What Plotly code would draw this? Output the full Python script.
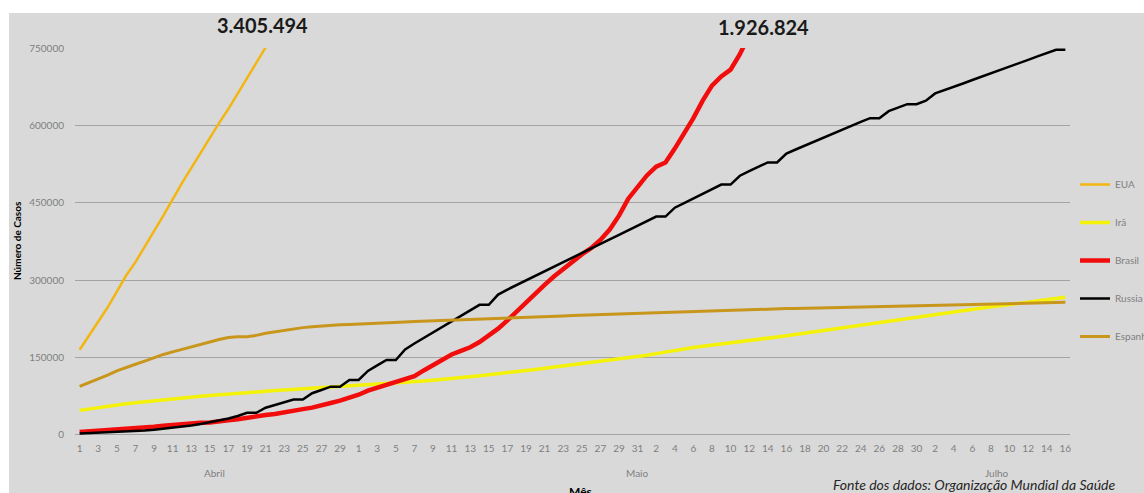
import pandas as pd
import plotly.graph_objects as go

# ---- data ----
datas = pd.date_range("2020-04-01", "2020-07-16", freq="D")

eua = [165000, 192000, 220000, 247000, 278000, 309000, 335000, 364000, 395000, 425000,
       457000, 488000, 517000, 547000, 577000, 605000, 632000, 662000, 692000, 721000,
       751000, 781000]

ira = [47593, 50468, 53183, 55743, 58226, 60500, 62589, 64586, 66220, 68192,
       70029, 71686, 73303, 74877, 76389, 77995, 79494, 80868, 82211, 83505,
       84802, 85996, 87026, 88194, 89328, 90481, 91472, 92584, 93657, 94640,
       95646, 96448, 97424, 98647, 99970, 101650, 103135, 104691, 106220, 107603,
       109286, 110767, 112725, 114533, 116635, 118392, 120198, 122492, 124603, 126949,
       129341, 131652, 133521, 135701, 137724, 139511, 141591, 143849, 146668, 148950,
       151466, 154445, 157562, 160696, 164270, 167156, 169425, 171789, 173832, 175927,
       177938, 180156, 182525, 184955, 187427, 189876, 192439, 195051, 197647, 200262,
       202584, 204952, 207525, 209970, 212501, 215096, 217724, 220180, 222669, 225205,
       227662, 230211, 232863, 235429, 237878, 240438, 243051, 245688, 248379, 250458,
       252720, 255117, 257303, 259652, 262173, 264561, 267061]

brasil = [5700, 6800, 7900, 9000, 10300, 11100, 12100, 13700, 15900, 17900,
          19600, 20700, 22200, 23400, 24200, 25300, 28300, 30400, 33700, 36600,
          38700, 40600, 43100, 45800, 50000, 52900, 58500, 61900, 66500, 71900,
          78000, 86000, 92000, 97000, 103000, 108000, 114000, 125000, 136000, 147000,
          156000, 163000, 170000, 180000, 193000, 206000, 222000, 240000, 256000, 273000,
          291000, 307000, 322000, 336000, 350000, 362000, 378000, 398000, 425000, 458000,
          480000, 503000, 520000, 528000, 555000, 584000, 614000, 648000, 677000, 695000,
          708000, 738000, 775000]

russia = [2800, 3500, 4100, 4700, 5400, 6300, 7500, 8700, 10100, 11900,
          13600, 15800, 18300, 21100, 24500, 27900, 32000, 36800, 42900, 42900,
          52800, 58000, 62800, 68600, 68600, 80900, 87100, 93600, 93600, 106500,
          106500, 124000, 134700, 145300, 145300, 165900, 177200, 187900, 198700, 209700,
          221300, 232200, 242300, 252200, 252200, 272000, 281800, 290700, 299900, 308700,
          317600, 326400, 335900, 344500, 353400, 362300, 370700, 379100, 387600, 396600,
          405800, 414300, 423200, 423200, 440500, 449300, 458100, 467100, 476000, 485300,
          485300, 502400, 511400, 520100, 528300, 528300, 545500, 553300, 561100, 569100,
          577000, 584700, 592300, 599700, 606900, 614000, 614000, 627600, 634400, 641200,
          641200, 648000, 662000, 668000, 674500, 681200, 687900, 694200, 700800, 707300,
          713900, 720500, 727000, 733700, 740200, 746400, 746400]

espanha = [94000, 101000, 108000, 116000, 124000, 131000, 137000, 143000, 150000, 156000,
           161000, 166000, 171000, 176000, 181000, 185000, 189000, 190500, 190500, 193000,
           197000, 200000, 203000, 205500, 208000, 209500, 211000, 212500, 213500, 214000,
           214600, 216000, 216900, 217600, 218200, 218900, 219700, 220300, 221000, 221800,
           222400, 223000, 223800, 224500, 225100, 225800, 226600, 227200, 227900, 228600,
           229400, 230000, 230700, 231500, 232100, 232800, 233600, 234200, 234900, 235500,
           236300, 237000, 237600, 238300, 239000, 239600, 240300, 240900, 241500, 242100,
           242600, 243000, 243400, 243700, 244100, 244500, 244900, 245300, 245700, 246100,
           246500, 246900, 247300, 247700, 248100, 248500, 248900, 249300, 249700, 250100,
           250500, 250900, 251300, 251700, 252100, 252500, 252900, 253300, 253700, 254100,
           254500, 254900, 255300, 255700, 256100, 256500, 257000]

series_nomes = ["EUA", "Irã", "Brasil", "Russia", "Espanha"]
series_vals = [eua, ira, brasil, russia, espanha]
cores = ["#f2b512", "#f5f20a", "#f20d0d", "#000000", "#c9961c"]
larguras = [2.5, 3.5, 4.5, 2.5, 3]

y_ticks = [0, 150000, 300000, 450000, 600000, 750000]
meses = ["Abril", "Maio", "Julho"]
meses_pos = ["2020-04-15 11:00", "2020-05-31 00:00", "2020-07-08 16:00"]
totais = ["3.405.494", "1.926.824"]

FONT = "Lato"

fig = go.Figure()
for i, (nome, vals) in enumerate(zip(series_nomes, series_vals)):
    fig.add_trace(go.Scatter(
        x=datas[:len(vals)], y=vals, mode="lines", name=nome,
        legendgroup=nome,
        line=dict(color=cores[i], width=larguras[i]),
        hoverinfo="skip",
    ))

# page-pixel -> paper coords (plot area on page: x 75..1070, y 48..437)
def px_x(px):
    return (px - 75) / 995.0

def px_y(py):
    return (437 - py) / 389.0

W, H = 1144, 493
fig.update_layout(
    width=W, height=H,
    margin=dict(l=75, r=W - 1070, t=48, b=H - 437, autoexpand=False),
    paper_bgcolor="#d9d9d9", plot_bgcolor="#d9d9d9",
    font=dict(family=FONT, size=10, color="#7f7f7f"),
    showlegend=True,
    legend=dict(
        x=px_x(1075), y=px_y(170), xanchor="left", yanchor="top",
        bgcolor="rgba(0,0,0,0)", font=dict(family=FONT, size=10, color="#7f7f7f"),
        tracegroupgap=19, itemwidth=30,
    ),
    xaxis=dict(
        type="date",
        range=["2020-03-31 12:00", "2020-07-16 12:00"],
        tick0="2020-04-01", dtick=2 * 86400000, tickformat="%-d",
        showgrid=False, zeroline=False, showline=False,
        ticks="", ticklabelstandoff=4,
        tickfont=dict(family=FONT, size=10, color="#7f7f7f"),
        fixedrange=True,
    ),
    yaxis=dict(
        range=[-4000, 750000],
        tickvals=y_ticks, ticktext=[str(v) for v in y_ticks],
        showgrid=True, gridcolor="#a3a3a3", gridwidth=1,
        zeroline=True, zerolinecolor="#a3a3a3", zerolinewidth=1,
        showline=False, ticks="", ticklabelstandoff=10,
        tickfont=dict(family=FONT, size=10, color="#7f7f7f"),
        fixedrange=True,
    ),
)

shapes = [
    dict(type="rect", xref="paper", yref="paper", layer="above",
         x0=px_x(0), x1=px_x(1150), y0=px_y(13), y1=px_y(0),
         fillcolor="white", line=dict(width=0)),
    dict(type="rect", xref="paper", yref="paper", layer="above",
         x0=px_x(0), x1=px_x(9), y0=px_y(500), y1=px_y(0),
         fillcolor="white", line=dict(width=0)),
]
fig.update_layout(shapes=shapes)

def note(text, x, y, size, color, xref="paper", xanchor="center", angle=0):
    return dict(text=text, x=x, y=y, xref=xref, yref="paper", xanchor=xanchor,
                yanchor="middle", showarrow=False, textangle=angle,
                font=dict(family=FONT, size=size, color=color))

ann = [
    note("<b>" + totais[0] + "</b>", px_x(262), px_y(25.5), 20, "#1a1a1a"),
    note("<b>" + totais[1] + "</b>", px_x(763), px_y(27.5), 20, "#1a1a1a"),
    note("<b>Número de Casos</b>", px_x(17), px_y(241), 10, "#000000", angle=-90),
    note("<b>Mês</b>", px_x(580), px_y(491), 12, "#000000"),
    note("<i>Fonte dos dados: Organização Mundial da Saúde</i>", px_x(831), px_y(484), 14,
         "#262626", xanchor="left"),
]
for m, p in zip(meses, meses_pos):
    ann.append(note(m, p, px_y(473), 10, "#7f7f7f", xref="x"))
fig.update_layout(annotations=ann)

fig.write_html(
    "out.html",
    config={"displayModeBar": False, "staticPlot": True},
    post_script="document.body.style.margin='0';document.body.style.overflow='hidden';",
)
